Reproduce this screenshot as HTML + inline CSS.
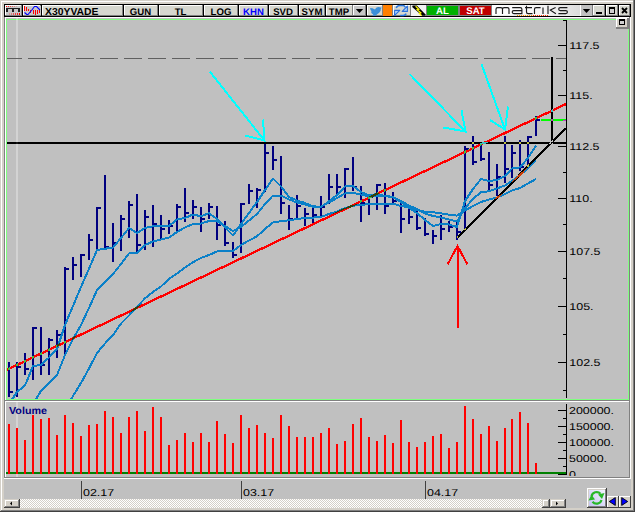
<!DOCTYPE html>
<html><head><meta charset="utf-8"><style>
html,body{margin:0;padding:0;width:635px;height:512px;overflow:hidden;background:#d4d0c8;font-family:"Liberation Sans",sans-serif;}
</style></head><body>
<svg width="635" height="512" viewBox="0 0 635 512" shape-rendering="crispEdges" style="position:absolute;left:0;top:0">
<defs><clipPath id="cc"><rect x="7" y="20" width="560" height="379"/></clipPath><clipPath id="vc"><rect x="6" y="402" width="561" height="74"/></clipPath><pattern id="chk" width="2" height="2" patternUnits="userSpaceOnUse"><rect width="2" height="2" fill="#ffffff"/><rect width="1" height="1" fill="#d4d0c8"/><rect x="1" y="1" width="1" height="1" fill="#d4d0c8"/></pattern></defs>
<rect x="0" y="0" width="635" height="512" fill="#d4d0c8"/>
<rect x="1" y="1" width="632" height="1" fill="#ffffff"/>
<rect x="1" y="1" width="1" height="509" fill="#ffffff"/>
<rect x="633" y="0" width="1" height="511" fill="#808080"/>
<rect x="634" y="0" width="1" height="512" fill="#404040"/>
<rect x="1" y="510" width="633" height="1" fill="#808080"/>
<rect x="0" y="511" width="635" height="1" fill="#404040"/>
<rect x="4" y="4" width="627" height="13" fill="#000000"/>
<rect x="5" y="5" width="17" height="11" fill="#d6d7cf"/>
<rect x="5" y="5" width="17" height="1" fill="#ffffff"/>
<rect x="5" y="5" width="1" height="11" fill="#ffffff"/>
<rect x="5" y="15" width="17" height="1" fill="#808080"/>
<rect x="21" y="5" width="1" height="11" fill="#808080"/>
<rect x="23" y="5" width="18" height="11" fill="#d6d7cf"/>
<rect x="23" y="5" width="18" height="1" fill="#ffffff"/>
<rect x="23" y="5" width="1" height="11" fill="#ffffff"/>
<rect x="23" y="15" width="18" height="1" fill="#808080"/>
<rect x="40" y="5" width="1" height="11" fill="#808080"/>
<rect x="42" y="5" width="81" height="11" fill="#d6d7cf"/>
<rect x="42" y="5" width="81" height="1" fill="#ffffff"/>
<rect x="42" y="5" width="1" height="11" fill="#ffffff"/>
<rect x="42" y="15" width="81" height="1" fill="#808080"/>
<rect x="122" y="5" width="1" height="11" fill="#808080"/>
<rect x="124" y="5" width="34" height="11" fill="#d6d7cf"/>
<rect x="124" y="5" width="34" height="1" fill="#ffffff"/>
<rect x="124" y="5" width="1" height="11" fill="#ffffff"/>
<rect x="124" y="15" width="34" height="1" fill="#808080"/>
<rect x="157" y="5" width="1" height="11" fill="#808080"/>
<rect x="159" y="5" width="44" height="11" fill="#d6d7cf"/>
<rect x="159" y="5" width="44" height="1" fill="#ffffff"/>
<rect x="159" y="5" width="1" height="11" fill="#ffffff"/>
<rect x="159" y="15" width="44" height="1" fill="#808080"/>
<rect x="202" y="5" width="1" height="11" fill="#808080"/>
<rect x="204" y="5" width="34" height="11" fill="#d6d7cf"/>
<rect x="204" y="5" width="34" height="1" fill="#ffffff"/>
<rect x="204" y="5" width="1" height="11" fill="#ffffff"/>
<rect x="204" y="15" width="34" height="1" fill="#808080"/>
<rect x="237" y="5" width="1" height="11" fill="#808080"/>
<rect x="239" y="5" width="29" height="11" fill="#d6d7cf"/>
<rect x="239" y="5" width="29" height="1" fill="#ffffff"/>
<rect x="239" y="5" width="1" height="11" fill="#ffffff"/>
<rect x="239" y="15" width="29" height="1" fill="#808080"/>
<rect x="267" y="5" width="1" height="11" fill="#808080"/>
<rect x="269" y="5" width="29" height="11" fill="#d6d7cf"/>
<rect x="269" y="5" width="29" height="1" fill="#ffffff"/>
<rect x="269" y="5" width="1" height="11" fill="#ffffff"/>
<rect x="269" y="15" width="29" height="1" fill="#808080"/>
<rect x="297" y="5" width="1" height="11" fill="#808080"/>
<rect x="299" y="5" width="26" height="11" fill="#d6d7cf"/>
<rect x="299" y="5" width="26" height="1" fill="#ffffff"/>
<rect x="299" y="5" width="1" height="11" fill="#ffffff"/>
<rect x="299" y="15" width="26" height="1" fill="#808080"/>
<rect x="324" y="5" width="1" height="11" fill="#808080"/>
<rect x="326" y="5" width="27" height="11" fill="#d6d7cf"/>
<rect x="326" y="5" width="27" height="1" fill="#ffffff"/>
<rect x="326" y="5" width="1" height="11" fill="#ffffff"/>
<rect x="326" y="15" width="27" height="1" fill="#808080"/>
<rect x="352" y="5" width="1" height="11" fill="#808080"/>
<rect x="353" y="5" width="13" height="11" fill="#d6d7cf"/>
<rect x="353" y="5" width="13" height="1" fill="#ffffff"/>
<rect x="353" y="5" width="1" height="11" fill="#ffffff"/>
<rect x="353" y="15" width="13" height="1" fill="#808080"/>
<rect x="365" y="5" width="1" height="11" fill="#808080"/>
<rect x="367" y="5" width="16" height="11" fill="#d6d7cf"/>
<rect x="367" y="5" width="16" height="1" fill="#ffffff"/>
<rect x="367" y="5" width="1" height="11" fill="#ffffff"/>
<rect x="367" y="15" width="16" height="1" fill="#808080"/>
<rect x="382" y="5" width="1" height="11" fill="#808080"/>
<rect x="393" y="5" width="18" height="11" fill="#d6d7cf"/>
<rect x="393" y="5" width="18" height="1" fill="#ffffff"/>
<rect x="393" y="5" width="1" height="11" fill="#ffffff"/>
<rect x="393" y="15" width="18" height="1" fill="#808080"/>
<rect x="410" y="5" width="1" height="11" fill="#808080"/>
<rect x="411" y="5" width="15" height="11" fill="#d6d7cf"/>
<rect x="411" y="5" width="15" height="1" fill="#ffffff"/>
<rect x="411" y="5" width="1" height="11" fill="#ffffff"/>
<rect x="411" y="15" width="15" height="1" fill="#808080"/>
<rect x="425" y="5" width="1" height="11" fill="#808080"/>
<rect x="6" y="6" width="15" height="9" fill="#c8c8c8"/>
<rect x="6" y="6" width="1" height="1" fill="#ff0000" opacity="1.00"/>
<rect x="8" y="6" width="1" height="1" fill="#ff0000" opacity="0.84"/>
<rect x="10" y="6" width="1" height="1" fill="#ff0000" opacity="0.68"/>
<rect x="12" y="6" width="1" height="1" fill="#ff0000" opacity="0.52"/>
<rect x="14" y="6" width="1" height="1" fill="#ff0000" opacity="0.36"/>
<rect x="16" y="6" width="1" height="1" fill="#ff0000" opacity="0.20"/>
<rect x="6" y="8" width="14" height="1" fill="#202020"/>
<rect x="6" y="8" width="2" height="4" fill="#202020"/>
<rect x="12" y="8" width="2" height="4" fill="#202020"/>
<rect x="18" y="8" width="2" height="4" fill="#202020"/>
<rect x="9" y="13" width="1" height="2" fill="#ff0000" opacity="0.25"/>
<rect x="11" y="13" width="1" height="2" fill="#ff0000" opacity="0.40"/>
<rect x="13" y="13" width="1" height="2" fill="#ff0000" opacity="0.55"/>
<rect x="15" y="13" width="1" height="2" fill="#ff0000" opacity="0.70"/>
<rect x="17" y="13" width="1" height="2" fill="#ff0000" opacity="0.85"/>
<rect x="19" y="13" width="1" height="2" fill="#ff0000" opacity="1.00"/>
<rect x="24" y="6" width="17" height="9" fill="#cacaca"/>
<rect x="24" y="6" width="1" height="5" fill="#ff0000"/>
<rect x="26" y="7" width="1" height="4" fill="#ff0000"/>
<rect x="28" y="9" width="1" height="2" fill="#ff0000"/>
<rect x="30" y="10" width="1" height="3" fill="#ff0000"/>
<rect x="33" y="10" width="1" height="4" fill="#ff0000"/>
<rect x="35" y="10" width="1" height="5" fill="#ff0000"/>
<rect x="37" y="10" width="1" height="4" fill="#ff0000"/>
<rect x="39" y="10" width="1" height="3" fill="#ff0000"/>
<path d="M24.5 12.5 L26.8 14.5 L28 14.5 L31.5 10.5 L34.5 6.5 L36.6 6.5 L40 10" stroke="#0000ff" stroke-width="1.1" fill="none" shape-rendering="auto"/>
<text x="45" y="15" font-family="Liberation Sans" font-size="10.2" font-weight="bold" fill="#000" text-anchor="start" text-rendering="geometricPrecision" shape-rendering="auto" textLength="53.5" lengthAdjust="spacingAndGlyphs">X30YVADE</text>
<text x="140.5" y="15" font-family="Liberation Sans" font-size="9.6" font-weight="bold" fill="#000" text-anchor="middle" text-rendering="geometricPrecision" shape-rendering="auto">GUN</text>
<text x="180.5" y="15" font-family="Liberation Sans" font-size="9.6" font-weight="bold" fill="#000" text-anchor="middle" text-rendering="geometricPrecision" shape-rendering="auto">TL</text>
<text x="221" y="15" font-family="Liberation Sans" font-size="9.6" font-weight="bold" fill="#000" text-anchor="middle" text-rendering="geometricPrecision" shape-rendering="auto">LOG</text>
<text x="253.5" y="15" font-family="Liberation Sans" font-size="9.6" font-weight="bold" fill="#0000ff" text-anchor="middle" text-rendering="geometricPrecision" shape-rendering="auto">KHN</text>
<text x="283" y="15" font-family="Liberation Sans" font-size="9.6" font-weight="bold" fill="#000" text-anchor="middle" text-rendering="geometricPrecision" shape-rendering="auto">SVD</text>
<text x="312" y="15" font-family="Liberation Sans" font-size="9.6" font-weight="bold" fill="#000" text-anchor="middle" text-rendering="geometricPrecision" shape-rendering="auto">SYM</text>
<text x="339" y="15" font-family="Liberation Sans" font-size="9.6" font-weight="bold" fill="#000" text-anchor="middle" text-rendering="geometricPrecision" shape-rendering="auto">TMP</text>
<rect x="354" y="6" width="11" height="9" fill="#c6c6c6"/>
<path d="M355.8 9 L363.2 9 L359.5 13 Z" fill="#000" shape-rendering="auto"/>
<path d="M370 8 L372.5 8.3 L375 9.6 L376.2 7.8 L378.2 7 L380 7.3 L381.6 7.8 L380.8 9 L380.6 10.8 L379.2 12.8 L377.2 14.2 L375.6 15.8 L371.8 15.8 L373.4 14.4 L371.8 13.4 L371 12 L371.6 11.2 L370.6 10 Z" fill="#3a8fd8" shape-rendering="auto"/>
<rect x="383" y="5" width="9" height="11" fill="#ff8000"/>
<rect x="392" y="5" width="1" height="11" fill="#808080"/>
<path d="M396.2 8 Q397 5.6 400 5.6 L402.8 5.6 Q404.6 5.6 405.2 7.2 M400.2 15.4 L403.2 15.4 Q405.4 15.4 406.2 13.6" stroke="#2a78e0" stroke-width="1.5" fill="none" shape-rendering="auto"/>
<path d="M407.4 6.2 L407.4 11.4 L402.2 11.4 Z M394.6 15.4 L394.6 10.4 L399.8 10.4 Z" fill="#a8d4ff" stroke="#2a70dc" stroke-width="1.1" stroke-linejoin="round" shape-rendering="auto"/>
<rect x="411" y="5" width="15" height="11" fill="#f2f2f2"/>
<path d="M412.6 5.6 L416.8 5.6 L425.6 14.4 L425.6 15.8 L422.2 15.8 L412.2 7 Z" fill="#000" shape-rendering="auto"/>
<path d="M415.6 6.2 L418.8 9.2 L417.2 9.8 L420.8 12.8 L419.4 13.4 L421.6 15.6" stroke="#f8f000" stroke-width="1.3" fill="none" shape-rendering="auto"/>
<rect x="426" y="5" width="34" height="11" fill="#808080"/>
<rect x="427" y="6" width="31" height="9" fill="#00b000"/>
<rect x="460" y="5" width="31" height="11" fill="#808080"/>
<rect x="460" y="6" width="31" height="9" fill="#c00000"/>
<text x="442.5" y="14" font-family="Liberation Sans" font-size="9.6" font-weight="bold" fill="#ffffff" text-anchor="middle" text-rendering="geometricPrecision" shape-rendering="auto">AL</text>
<text x="475.5" y="14" font-family="Liberation Sans" font-size="9.6" font-weight="bold" fill="#ffffff" text-anchor="middle" text-rendering="geometricPrecision" shape-rendering="auto">SAT</text>
<defs><linearGradient id="lg" x1="0" x2="1" y1="0" y2="0"><stop offset="0" stop-color="#ffffff"/><stop offset="0.6" stop-color="#f4f4f4"/><stop offset="1" stop-color="#dcdcdc"/></linearGradient></defs>
<rect x="491" y="5" width="2" height="11" fill="#808080"/>
<rect x="492" y="5" width="88" height="11" fill="url(#lg)"/>
<rect x="492" y="15" width="88" height="1" fill="#e8e8e8"/>
<path d="M496 14 V9.2 Q496 7.6 497.6 7.6 H500.9 Q502.5 7.6 502.5 9.2 V14 M502.5 9.2 Q502.5 7.6 504.1 7.6 H507.4 Q509 7.6 509 9.2 V14 M512.2 7.6 H520.2 Q521.9 7.6 521.9 9.2 V13.6 H513.8 Q512.2 13.6 512.2 12.1 Q512.2 10.6 513.8 10.6 H521.9 M526.5 5.8 V12 Q526.5 13.6 528.1 13.6 H532.5 M525 7.6 H532 M534.5 14 V9.2 Q534.5 7.6 536.1 7.6 H540.6 M543 7.4 V14 M548 5.8 V14 M555.6 7.6 L549.8 10.2 H550.6 L555.9 13.8 M567.4 7.6 H560.2 Q558.7 7.6 558.7 9.1 Q558.7 10.6 560.2 10.6 H565.8 Q567.4 10.6 567.4 12.1 Q567.4 13.6 565.8 13.6 H558.4" stroke="#1a1a1a" stroke-width="1.15" fill="none" shape-rendering="auto"/>
<rect x="517" y="15" width="1" height="1" fill="#ff9000"/>
<rect x="519" y="15" width="1" height="1" fill="#ff9000"/>
<rect x="521" y="15" width="1" height="1" fill="#ff9000"/>
<rect x="523" y="15" width="1" height="1" fill="#ff9000"/>
<rect x="525" y="15" width="1" height="1" fill="#ff9000"/>
<rect x="527" y="15" width="1" height="1" fill="#ff9000"/>
<rect x="529" y="15" width="1" height="1" fill="#ff9000"/>
<rect x="531" y="15" width="1" height="1" fill="#ff9000"/>
<rect x="533" y="15" width="1" height="1" fill="#ff3000"/>
<rect x="535" y="15" width="1" height="1" fill="#ff3000"/>
<rect x="537" y="15" width="1" height="1" fill="#ff3000"/>
<rect x="539" y="15" width="1" height="1" fill="#ff3000"/>
<rect x="541" y="15" width="1" height="1" fill="#ff3000"/>
<rect x="543" y="15" width="1" height="1" fill="#ff3000"/>
<rect x="545" y="15" width="1" height="1" fill="#ff3000"/>
<rect x="547" y="15" width="1" height="1" fill="#ff3000"/>
<rect x="580" y="5" width="1" height="11" fill="#ffffff"/>
<rect x="581" y="5" width="11" height="11" fill="#c0c0c0"/>
<rect x="592" y="5" width="1" height="11" fill="#808080"/>
<path d="M582.8 9 L590.2 9 L586.5 13 Z" fill="#000" shape-rendering="auto"/>
<rect x="593" y="5" width="12" height="11" fill="#d6d7cf"/>
<rect x="593" y="5" width="12" height="1" fill="#ffffff"/>
<rect x="593" y="5" width="1" height="11" fill="#ffffff"/>
<rect x="593" y="15" width="12" height="1" fill="#808080"/>
<rect x="604" y="5" width="1" height="11" fill="#808080"/>
<rect x="596" y="12" width="6" height="2" fill="#000"/>
<rect x="606" y="5" width="12" height="11" fill="#d6d7cf"/>
<rect x="606" y="5" width="12" height="1" fill="#ffffff"/>
<rect x="606" y="5" width="1" height="11" fill="#ffffff"/>
<rect x="606" y="15" width="12" height="1" fill="#808080"/>
<rect x="617" y="5" width="1" height="11" fill="#808080"/>
<rect x="609" y="7" width="6" height="7" fill="#000"/>
<rect x="610" y="9" width="4" height="4" fill="#d0d0d0"/>
<rect x="619" y="5" width="11" height="11" fill="#d6d7cf"/>
<rect x="619" y="5" width="11" height="1" fill="#ffffff"/>
<rect x="619" y="5" width="1" height="11" fill="#ffffff"/>
<rect x="619" y="15" width="11" height="1" fill="#808080"/>
<rect x="629" y="5" width="1" height="11" fill="#808080"/>
<path d="M622 8 L627 13 M627 8 L622 13" stroke="#000" stroke-width="1.8" shape-rendering="auto"/>
<rect x="4" y="17" width="1" height="461" fill="#808080"/>
<rect x="5" y="17" width="1" height="460" fill="#ffffff"/>
<rect x="5" y="17" width="625" height="1" fill="#ffffff"/>
<rect x="630" y="17" width="1" height="462" fill="#ffffff"/>
<rect x="629" y="17" width="1" height="384" fill="#808080"/>
<rect x="6" y="18" width="623" height="382" fill="#c0c0c0"/>
<rect x="6" y="19" width="623" height="1" fill="#80ff80"/>
<rect x="6" y="399" width="623" height="1" fill="#80ff80"/>
<rect x="6" y="19" width="1" height="381" fill="#80ff80"/>
<rect x="628" y="29" width="1" height="371" fill="#80ff80"/>
<rect x="16" y="18" width="2" height="381" fill="#ffffff" opacity="0.3"/>
<rect x="5" y="400" width="625" height="1" fill="#808080"/>
<rect x="5" y="401" width="625" height="1" fill="#ffffff"/>
<rect x="6" y="402" width="623" height="75" fill="#c0c0c0"/>
<rect x="16" y="402" width="2" height="75" fill="#ffffff" opacity="0.3"/>
<rect x="629" y="401" width="1" height="77" fill="#808080"/>
<rect x="4" y="477" width="626" height="1" fill="#808080"/>
<rect x="4" y="478" width="627" height="1" fill="#ffffff"/>
<rect x="4" y="479" width="627" height="20" fill="#c0c0c0"/>
<rect x="616" y="18" width="13" height="11" fill="#d4d0c8"/>
<rect x="616" y="18" width="13" height="1" fill="#ffffff"/>
<rect x="616" y="18" width="1" height="11" fill="#ffffff"/>
<rect x="616" y="27" width="13" height="2" fill="#808080"/>
<rect x="627" y="18" width="2" height="11" fill="#808080"/>
<rect x="619" y="19" width="6" height="6" fill="#000"/>
<rect x="620" y="21" width="4" height="3" fill="#d0d0d0"/>
<g clip-path="url(#cc)">
<rect x="7" y="58" width="15" height="1" fill="#606060"/>
<rect x="28" y="58" width="18" height="1" fill="#606060"/>
<rect x="52" y="58" width="18" height="1" fill="#606060"/>
<rect x="76" y="58" width="18" height="1" fill="#606060"/>
<rect x="100" y="58" width="18" height="1" fill="#606060"/>
<rect x="124" y="58" width="18" height="1" fill="#606060"/>
<rect x="148" y="58" width="18" height="1" fill="#606060"/>
<rect x="172" y="58" width="18" height="1" fill="#606060"/>
<rect x="196" y="58" width="18" height="1" fill="#606060"/>
<rect x="220" y="58" width="18" height="1" fill="#606060"/>
<rect x="244" y="58" width="18" height="1" fill="#606060"/>
<rect x="268" y="58" width="18" height="1" fill="#606060"/>
<rect x="292" y="58" width="18" height="1" fill="#606060"/>
<rect x="316" y="58" width="18" height="1" fill="#606060"/>
<rect x="340" y="58" width="18" height="1" fill="#606060"/>
<rect x="364" y="58" width="18" height="1" fill="#606060"/>
<rect x="388" y="58" width="18" height="1" fill="#606060"/>
<rect x="412" y="58" width="18" height="1" fill="#606060"/>
<rect x="436" y="58" width="18" height="1" fill="#606060"/>
<rect x="460" y="58" width="18" height="1" fill="#606060"/>
<rect x="484" y="58" width="18" height="1" fill="#606060"/>
<rect x="508" y="58" width="18" height="1" fill="#606060"/>
<rect x="532" y="58" width="18" height="1" fill="#606060"/>
<rect x="556" y="58" width="11" height="1" fill="#606060"/>
<rect x="8" y="362" width="2" height="35" fill="#000080"/>
<rect x="10" y="391" width="3" height="2" fill="#000080"/>
<rect x="16" y="362" width="2" height="35" fill="#000080"/>
<rect x="18" y="366" width="3" height="2" fill="#000080"/>
<rect x="24" y="353" width="2" height="22" fill="#000080"/>
<rect x="26" y="368" width="3" height="2" fill="#000080"/>
<rect x="32" y="327" width="2" height="53" fill="#000080"/>
<rect x="34" y="327" width="3" height="2" fill="#000080"/>
<rect x="40" y="327" width="2" height="48" fill="#000080"/>
<rect x="42" y="364" width="3" height="2" fill="#000080"/>
<rect x="48" y="338" width="2" height="37" fill="#000080"/>
<rect x="50" y="339" width="3" height="2" fill="#000080"/>
<rect x="56" y="330" width="2" height="28" fill="#000080"/>
<rect x="58" y="334" width="3" height="2" fill="#000080"/>
<rect x="64" y="267" width="2" height="87" fill="#000080"/>
<rect x="66" y="268" width="3" height="2" fill="#000080"/>
<rect x="72" y="257" width="2" height="23" fill="#000080"/>
<rect x="74" y="264" width="3" height="2" fill="#000080"/>
<rect x="80" y="254" width="2" height="23" fill="#000080"/>
<rect x="82" y="254" width="3" height="2" fill="#000080"/>
<rect x="88" y="234" width="2" height="26" fill="#000080"/>
<rect x="90" y="239" width="3" height="2" fill="#000080"/>
<rect x="96" y="207" width="2" height="43" fill="#000080"/>
<rect x="98" y="207" width="3" height="2" fill="#000080"/>
<rect x="104" y="175" width="2" height="73" fill="#000080"/>
<rect x="106" y="246" width="3" height="2" fill="#000080"/>
<rect x="112" y="223" width="2" height="39" fill="#000080"/>
<rect x="114" y="242" width="3" height="2" fill="#000080"/>
<rect x="120" y="215" width="2" height="36" fill="#000080"/>
<rect x="122" y="218" width="3" height="2" fill="#000080"/>
<rect x="128" y="201" width="2" height="37" fill="#000080"/>
<rect x="130" y="204" width="3" height="2" fill="#000080"/>
<rect x="136" y="194" width="2" height="58" fill="#000080"/>
<rect x="138" y="244" width="3" height="2" fill="#000080"/>
<rect x="144" y="210" width="2" height="40" fill="#000080"/>
<rect x="146" y="216" width="3" height="2" fill="#000080"/>
<rect x="152" y="205" width="2" height="42" fill="#000080"/>
<rect x="154" y="223" width="3" height="2" fill="#000080"/>
<rect x="160" y="215" width="2" height="24" fill="#000080"/>
<rect x="162" y="228" width="3" height="2" fill="#000080"/>
<rect x="168" y="220" width="2" height="14" fill="#000080"/>
<rect x="170" y="225" width="3" height="2" fill="#000080"/>
<rect x="176" y="204" width="2" height="27" fill="#000080"/>
<rect x="178" y="206" width="3" height="2" fill="#000080"/>
<rect x="184" y="188" width="2" height="34" fill="#000080"/>
<rect x="186" y="212" width="3" height="2" fill="#000080"/>
<rect x="192" y="200" width="2" height="19" fill="#000080"/>
<rect x="194" y="206" width="3" height="2" fill="#000080"/>
<rect x="200" y="207" width="2" height="25" fill="#000080"/>
<rect x="202" y="218" width="3" height="2" fill="#000080"/>
<rect x="208" y="203" width="2" height="16" fill="#000080"/>
<rect x="210" y="206" width="3" height="2" fill="#000080"/>
<rect x="216" y="206" width="2" height="34" fill="#000080"/>
<rect x="218" y="224" width="3" height="2" fill="#000080"/>
<rect x="224" y="221" width="2" height="25" fill="#000080"/>
<rect x="226" y="242" width="3" height="2" fill="#000080"/>
<rect x="232" y="242" width="2" height="16" fill="#000080"/>
<rect x="234" y="254" width="3" height="2" fill="#000080"/>
<rect x="240" y="203" width="2" height="50" fill="#000080"/>
<rect x="242" y="203" width="3" height="2" fill="#000080"/>
<rect x="248" y="184" width="2" height="20" fill="#000080"/>
<rect x="250" y="190" width="3" height="2" fill="#000080"/>
<rect x="256" y="188" width="2" height="20" fill="#000080"/>
<rect x="258" y="189" width="3" height="2" fill="#000080"/>
<rect x="264" y="144" width="2" height="48" fill="#000080"/>
<rect x="266" y="152" width="3" height="2" fill="#000080"/>
<rect x="272" y="146" width="2" height="24" fill="#000080"/>
<rect x="274" y="159" width="3" height="2" fill="#000080"/>
<rect x="280" y="156" width="2" height="58" fill="#000080"/>
<rect x="282" y="202" width="3" height="2" fill="#000080"/>
<rect x="288" y="205" width="2" height="25" fill="#000080"/>
<rect x="290" y="218" width="3" height="2" fill="#000080"/>
<rect x="296" y="195" width="2" height="23" fill="#000080"/>
<rect x="298" y="205" width="3" height="2" fill="#000080"/>
<rect x="304" y="208" width="2" height="18" fill="#000080"/>
<rect x="306" y="213" width="3" height="2" fill="#000080"/>
<rect x="312" y="206" width="2" height="17" fill="#000080"/>
<rect x="314" y="214" width="3" height="2" fill="#000080"/>
<rect x="320" y="196" width="2" height="20" fill="#000080"/>
<rect x="322" y="206" width="3" height="2" fill="#000080"/>
<rect x="328" y="174" width="2" height="30" fill="#000080"/>
<rect x="330" y="186" width="3" height="2" fill="#000080"/>
<rect x="336" y="174" width="2" height="20" fill="#000080"/>
<rect x="338" y="186" width="3" height="2" fill="#000080"/>
<rect x="344" y="168" width="2" height="30" fill="#000080"/>
<rect x="346" y="168" width="3" height="2" fill="#000080"/>
<rect x="352" y="157" width="2" height="34" fill="#000080"/>
<rect x="354" y="186" width="3" height="2" fill="#000080"/>
<rect x="360" y="186" width="2" height="36" fill="#000080"/>
<rect x="362" y="202" width="3" height="2" fill="#000080"/>
<rect x="368" y="196" width="2" height="19" fill="#000080"/>
<rect x="370" y="196" width="3" height="2" fill="#000080"/>
<rect x="376" y="184" width="2" height="26" fill="#000080"/>
<rect x="378" y="184" width="3" height="2" fill="#000080"/>
<rect x="384" y="183" width="2" height="31" fill="#000080"/>
<rect x="386" y="205" width="3" height="2" fill="#000080"/>
<rect x="392" y="192" width="2" height="12" fill="#000080"/>
<rect x="394" y="200" width="3" height="2" fill="#000080"/>
<rect x="400" y="201" width="2" height="32" fill="#000080"/>
<rect x="402" y="218" width="3" height="2" fill="#000080"/>
<rect x="408" y="209" width="2" height="15" fill="#000080"/>
<rect x="410" y="216" width="3" height="2" fill="#000080"/>
<rect x="416" y="211" width="2" height="19" fill="#000080"/>
<rect x="418" y="227" width="3" height="2" fill="#000080"/>
<rect x="424" y="218" width="2" height="18" fill="#000080"/>
<rect x="426" y="233" width="3" height="2" fill="#000080"/>
<rect x="432" y="230" width="2" height="14" fill="#000080"/>
<rect x="434" y="235" width="3" height="2" fill="#000080"/>
<rect x="440" y="215" width="2" height="25" fill="#000080"/>
<rect x="442" y="228" width="3" height="2" fill="#000080"/>
<rect x="448" y="221" width="2" height="11" fill="#000080"/>
<rect x="450" y="226" width="3" height="2" fill="#000080"/>
<rect x="456" y="222" width="2" height="18" fill="#000080"/>
<rect x="458" y="231" width="3" height="2" fill="#000080"/>
<rect x="464" y="146" width="2" height="84" fill="#000080"/>
<rect x="466" y="148" width="3" height="2" fill="#000080"/>
<rect x="472" y="136" width="2" height="29" fill="#000080"/>
<rect x="474" y="161" width="3" height="2" fill="#000080"/>
<rect x="480" y="144" width="2" height="17" fill="#000080"/>
<rect x="482" y="158" width="3" height="2" fill="#000080"/>
<rect x="488" y="152" width="2" height="38" fill="#000080"/>
<rect x="490" y="184" width="3" height="2" fill="#000080"/>
<rect x="496" y="164" width="2" height="32" fill="#000080"/>
<rect x="498" y="176" width="3" height="2" fill="#000080"/>
<rect x="504" y="136" width="2" height="47" fill="#000080"/>
<rect x="506" y="168" width="3" height="2" fill="#000080"/>
<rect x="511" y="145" width="2" height="33" fill="#000080"/>
<rect x="513" y="152" width="3" height="2" fill="#000080"/>
<rect x="519" y="140" width="2" height="31" fill="#000080"/>
<rect x="521" y="166" width="3" height="2" fill="#000080"/>
<rect x="527" y="136" width="2" height="31" fill="#000080"/>
<rect x="529" y="136" width="3" height="2" fill="#000080"/>
<rect x="535" y="116" width="2" height="20" fill="#000080"/>
<rect x="537" y="119" width="3" height="2" fill="#000080"/>
<polyline points="65,410 73,396 81,383 89,368.5 97,353 105,343.5 113,335 121,323.5 129,315.5 137,307 145,298.3 153,292 161,286.5 169,279 177,273.5 185,267.5 193,262.2 201,258 209,255 217,251.5 225,251 233,251 241,245 249,240.5 257,236.3 265,229 273,222.5 281,221.2 289,220.3 297,219 305,218 313,217.6 321,217 329,214 337,211.5 345,208 353,205.8 361,204.8 369,204.2 377,203.8 385,203.7 393,203.7 401,206 409,207.5 417,210 425,211.8 433,212.3 441,213.3 449,214.6 457,215.6 465,210.5 473,206 481,202 489,199.5 497,197.5 505,194 512,190.5 520,188 528,183.5 536,179" fill="none" stroke="#0a80c8" stroke-width="2" stroke-linejoin="round" shape-rendering="crispEdges"/>
<polyline points="33,404 41,391 49,383 57,375 65,355 73,339 81,325 89,308 97,290 105,282 113,274 121,264 129,253.5 137,253 145,245 153,241.5 161,239.5 169,237.5 177,232 185,227.5 193,224 201,223.5 209,221 217,221.5 225,226 233,231 241,227 249,220.5 257,214 265,204 273,195.5 281,195.5 289,199.5 297,202.5 305,204.5 313,206.8 321,206.5 329,202.5 337,198 345,193.5 353,193 361,194.5 369,196.25 377,195.5 385,195.5 393,197 401,201 409,205.5 417,209 425,213.5 433,216 441,217.5 449,219.5 457,221.5 465,208 473,199 481,192 489,191.3 497,188.5 505,185.5 512,181 520,175 528,168.5 536,160.5" fill="none" stroke="#0a80c8" stroke-width="2" stroke-linejoin="round" shape-rendering="crispEdges"/>
<polyline points="9,404 17,392 25,385.5 33,366 41,365 49,357.5 57,349 65,325 73,306 81,287 89,268.75 97,250 105,248.75 113,247.5 121,238 129,228 137,233 145,228 153,226.25 161,226.25 169,226 177,219.5 185,218 193,214.5 201,216.25 209,213.25 217,219 225,227.5 233,235.5 241,224 249,213 257,202 265,190 273,178.5 281,186.5 289,197 297,200.5 305,203 313,206.25 321,207 329,201.25 337,195 345,186.5 353,186 361,192 369,195.5 377,194 385,196 393,197.5 401,202 409,208 417,213 425,220 433,226 441,224 449,224.5 457,227 465,201 473,189 481,179 489,181 497,180 505,176 512,168.5 520,167.4 528,158 536,145.5" fill="none" stroke="#0a80c8" stroke-width="2" stroke-linejoin="round" shape-rendering="crispEdges"/>
<path d="M209.7 71.4 L264.5 140.5 M263 119.5 L264.5 140.5 L245.5 135.5" stroke="#00ffff" stroke-width="2" fill="none" stroke-linecap="butt"/>
<path d="M409.5 74 L465.5 131.5 M461.5 110.5 L465.5 131.5 L443.5 127.5" stroke="#00ffff" stroke-width="2" fill="none" stroke-linecap="butt"/>
<path d="M481.5 64 L505 129.5 M508 106.5 L505 129.5 L490 120" stroke="#00ffff" stroke-width="2" fill="none" stroke-linecap="butt"/>
<path d="M457.5 328 L457.5 246 M447.5 264.5 L457.5 246 L467.5 264.5" stroke="#ff0000" stroke-width="2" fill="none" stroke-linecap="butt"/>
</g>
<defs><clipPath id="vlc"><rect x="560" y="402" width="70" height="74"/></clipPath></defs>
<rect x="566" y="20" width="1" height="378" fill="#000"/>
<rect x="563" y="390" width="3" height="1" fill="#000"/>
<rect x="558" y="362" width="8" height="1" fill="#000"/>
<g><text transform="translate(569.3,366) scale(1.245,1)" font-family="Liberation Sans" font-size="10" fill="#000" text-rendering="geometricPrecision" shape-rendering="auto">102.5</text></g>
<rect x="563" y="334" width="3" height="1" fill="#000"/>
<rect x="558" y="306" width="8" height="1" fill="#000"/>
<g><text transform="translate(569.3,310) scale(1.245,1)" font-family="Liberation Sans" font-size="10" fill="#000" text-rendering="geometricPrecision" shape-rendering="auto">105.</text></g>
<rect x="563" y="278" width="3" height="1" fill="#000"/>
<rect x="558" y="251" width="8" height="1" fill="#000"/>
<g><text transform="translate(569.3,255) scale(1.245,1)" font-family="Liberation Sans" font-size="10" fill="#000" text-rendering="geometricPrecision" shape-rendering="auto">107.5</text></g>
<rect x="563" y="224" width="3" height="1" fill="#000"/>
<rect x="558" y="198" width="8" height="1" fill="#000"/>
<g><text transform="translate(569.3,202) scale(1.245,1)" font-family="Liberation Sans" font-size="10" fill="#000" text-rendering="geometricPrecision" shape-rendering="auto">110.</text></g>
<rect x="563" y="172" width="3" height="1" fill="#000"/>
<rect x="558" y="146" width="8" height="1" fill="#000"/>
<g><text transform="translate(569.3,150) scale(1.245,1)" font-family="Liberation Sans" font-size="10" fill="#000" text-rendering="geometricPrecision" shape-rendering="auto">112.5</text></g>
<rect x="563" y="120" width="3" height="1" fill="#000"/>
<rect x="558" y="95" width="8" height="1" fill="#000"/>
<g><text transform="translate(569.3,99) scale(1.245,1)" font-family="Liberation Sans" font-size="10" fill="#000" text-rendering="geometricPrecision" shape-rendering="auto">115.</text></g>
<rect x="563" y="70" width="3" height="1" fill="#000"/>
<rect x="558" y="45" width="8" height="1" fill="#000"/>
<g><text transform="translate(569.3,49) scale(1.245,1)" font-family="Liberation Sans" font-size="10" fill="#000" text-rendering="geometricPrecision" shape-rendering="auto">117.5</text></g>
<rect x="563" y="20" width="3" height="1" fill="#000"/>
<g clip-path="url(#vc)">
<rect x="6" y="472" width="561" height="2" fill="#008000"/>
<rect x="8" y="424" width="2" height="50" fill="#ff0000"/>
<rect x="16" y="428" width="2" height="46" fill="#ff0000"/>
<rect x="24" y="440" width="2" height="34" fill="#ff0000"/>
<rect x="32" y="415" width="2" height="59" fill="#ff0000"/>
<rect x="40" y="419" width="2" height="55" fill="#ff0000"/>
<rect x="48" y="418" width="2" height="56" fill="#ff0000"/>
<rect x="56" y="435" width="2" height="39" fill="#ff0000"/>
<rect x="64" y="415" width="2" height="59" fill="#ff0000"/>
<rect x="72" y="423" width="2" height="51" fill="#ff0000"/>
<rect x="80" y="436" width="2" height="38" fill="#ff0000"/>
<rect x="88" y="425" width="2" height="49" fill="#ff0000"/>
<rect x="96" y="424" width="2" height="50" fill="#ff0000"/>
<rect x="104" y="411" width="2" height="63" fill="#ff0000"/>
<rect x="112" y="417" width="2" height="57" fill="#ff0000"/>
<rect x="120" y="433" width="2" height="41" fill="#ff0000"/>
<rect x="128" y="417" width="2" height="57" fill="#ff0000"/>
<rect x="136" y="411" width="2" height="63" fill="#ff0000"/>
<rect x="144" y="431" width="2" height="43" fill="#ff0000"/>
<rect x="152" y="407" width="2" height="67" fill="#ff0000"/>
<rect x="160" y="417" width="2" height="57" fill="#ff0000"/>
<rect x="168" y="445" width="2" height="29" fill="#ff0000"/>
<rect x="176" y="440" width="2" height="34" fill="#ff0000"/>
<rect x="184" y="433" width="2" height="41" fill="#ff0000"/>
<rect x="192" y="442" width="2" height="32" fill="#ff0000"/>
<rect x="200" y="433" width="2" height="41" fill="#ff0000"/>
<rect x="208" y="442" width="2" height="32" fill="#ff0000"/>
<rect x="216" y="421" width="2" height="53" fill="#ff0000"/>
<rect x="224" y="434" width="2" height="40" fill="#ff0000"/>
<rect x="232" y="443" width="2" height="31" fill="#ff0000"/>
<rect x="240" y="415" width="2" height="59" fill="#ff0000"/>
<rect x="248" y="428" width="2" height="46" fill="#ff0000"/>
<rect x="256" y="425" width="2" height="49" fill="#ff0000"/>
<rect x="264" y="433" width="2" height="41" fill="#ff0000"/>
<rect x="272" y="438" width="2" height="36" fill="#ff0000"/>
<rect x="280" y="415" width="2" height="59" fill="#ff0000"/>
<rect x="288" y="426" width="2" height="48" fill="#ff0000"/>
<rect x="296" y="437" width="2" height="37" fill="#ff0000"/>
<rect x="304" y="437" width="2" height="37" fill="#ff0000"/>
<rect x="312" y="437" width="2" height="37" fill="#ff0000"/>
<rect x="320" y="433" width="2" height="41" fill="#ff0000"/>
<rect x="328" y="428" width="2" height="46" fill="#ff0000"/>
<rect x="336" y="444" width="2" height="30" fill="#ff0000"/>
<rect x="344" y="441" width="2" height="33" fill="#ff0000"/>
<rect x="352" y="424" width="2" height="50" fill="#ff0000"/>
<rect x="360" y="418" width="2" height="56" fill="#ff0000"/>
<rect x="368" y="437" width="2" height="37" fill="#ff0000"/>
<rect x="376" y="441" width="2" height="33" fill="#ff0000"/>
<rect x="384" y="435" width="2" height="39" fill="#ff0000"/>
<rect x="392" y="443" width="2" height="31" fill="#ff0000"/>
<rect x="400" y="420" width="2" height="54" fill="#ff0000"/>
<rect x="408" y="442" width="2" height="32" fill="#ff0000"/>
<rect x="416" y="447" width="2" height="27" fill="#ff0000"/>
<rect x="424" y="442" width="2" height="32" fill="#ff0000"/>
<rect x="432" y="436" width="2" height="38" fill="#ff0000"/>
<rect x="440" y="434" width="2" height="40" fill="#ff0000"/>
<rect x="448" y="448" width="2" height="26" fill="#ff0000"/>
<rect x="456" y="442" width="2" height="32" fill="#ff0000"/>
<rect x="464" y="406" width="2" height="68" fill="#ff0000"/>
<rect x="472" y="419" width="2" height="55" fill="#ff0000"/>
<rect x="480" y="434" width="2" height="40" fill="#ff0000"/>
<rect x="488" y="426" width="2" height="48" fill="#ff0000"/>
<rect x="496" y="441" width="2" height="33" fill="#ff0000"/>
<rect x="504" y="428" width="2" height="46" fill="#ff0000"/>
<rect x="511" y="419" width="2" height="55" fill="#ff0000"/>
<rect x="519" y="412" width="2" height="62" fill="#ff0000"/>
<rect x="527" y="423" width="2" height="51" fill="#ff0000"/>
<rect x="535" y="463" width="2" height="11" fill="#ff0000"/>
</g>
<text x="9" y="414" font-family="Liberation Sans" font-size="10.2" font-weight="bold" fill="#000080" text-rendering="geometricPrecision" textLength="38" lengthAdjust="spacingAndGlyphs">Volume</text>
<rect x="566" y="404" width="1" height="71" fill="#000"/>
<rect x="558" y="410" width="8" height="1" fill="#000"/>
<rect x="563" y="418" width="3" height="1" fill="#000"/>
<g><text transform="translate(569,414) scale(1.245,1)" font-family="Liberation Sans" font-size="10" fill="#000" text-rendering="geometricPrecision" shape-rendering="auto">200000.</text></g>
<rect x="558" y="426" width="8" height="1" fill="#000"/>
<rect x="563" y="434" width="3" height="1" fill="#000"/>
<g><text transform="translate(569,430) scale(1.245,1)" font-family="Liberation Sans" font-size="10" fill="#000" text-rendering="geometricPrecision" shape-rendering="auto">150000.</text></g>
<rect x="558" y="442" width="8" height="1" fill="#000"/>
<rect x="563" y="450" width="3" height="1" fill="#000"/>
<g><text transform="translate(569,446) scale(1.245,1)" font-family="Liberation Sans" font-size="10" fill="#000" text-rendering="geometricPrecision" shape-rendering="auto">100000.</text></g>
<rect x="558" y="458" width="8" height="1" fill="#000"/>
<rect x="563" y="466" width="3" height="1" fill="#000"/>
<g><text transform="translate(569,462) scale(1.245,1)" font-family="Liberation Sans" font-size="10" fill="#000" text-rendering="geometricPrecision" shape-rendering="auto">50000.</text></g>
<rect x="558" y="474" width="8" height="1" fill="#000"/>
<g clip-path="url(#vlc)"><text transform="translate(569,478) scale(1.245,1)" font-family="Liberation Sans" font-size="10" fill="#000" text-rendering="geometricPrecision" shape-rendering="auto">0</text></g>
<rect x="81" y="481" width="1" height="18" fill="#404040"/>
<g><text transform="translate(83,496) scale(1.245,1)" font-family="Liberation Sans" font-size="10" fill="#000" text-rendering="geometricPrecision" shape-rendering="auto">02.17</text></g>
<rect x="241" y="481" width="1" height="18" fill="#404040"/>
<g><text transform="translate(243,496) scale(1.245,1)" font-family="Liberation Sans" font-size="10" fill="#000" text-rendering="geometricPrecision" shape-rendering="auto">03.17</text></g>
<rect x="425" y="481" width="1" height="18" fill="#404040"/>
<g><text transform="translate(427,496) scale(1.245,1)" font-family="Liberation Sans" font-size="10" fill="#000" text-rendering="geometricPrecision" shape-rendering="auto">04.17</text></g>
<rect x="4" y="499" width="562" height="9" fill="url(#chk)"/>
<rect x="4" y="499" width="16" height="9" fill="#d4d0c8"/>
<rect x="4" y="499" width="16" height="1" fill="#d4d0c8"/>
<rect x="5" y="500" width="14" height="1" fill="#ffffff"/>
<rect x="5" y="500" width="1" height="7" fill="#ffffff"/>
<rect x="4" y="507" width="16" height="1" fill="#404040"/>
<rect x="19" y="499" width="1" height="9" fill="#404040"/>
<rect x="5" y="506" width="14" height="1" fill="#808080"/>
<rect x="18" y="500" width="1" height="7" fill="#808080"/>
<path d="M10 503.5 L12 501.5 L12 505.5 Z" fill="#000" shape-rendering="auto"/>
<rect x="542" y="499" width="8" height="9" fill="#d4d0c8"/>
<rect x="542" y="499" width="8" height="1" fill="#d4d0c8"/>
<rect x="543" y="500" width="6" height="1" fill="#ffffff"/>
<rect x="543" y="500" width="1" height="7" fill="#ffffff"/>
<rect x="542" y="507" width="8" height="1" fill="#404040"/>
<rect x="549" y="499" width="1" height="9" fill="#404040"/>
<rect x="543" y="506" width="6" height="1" fill="#808080"/>
<rect x="548" y="500" width="1" height="7" fill="#808080"/>
<rect x="550" y="499" width="16" height="9" fill="#d4d0c8"/>
<rect x="550" y="499" width="16" height="1" fill="#d4d0c8"/>
<rect x="551" y="500" width="14" height="1" fill="#ffffff"/>
<rect x="551" y="500" width="1" height="7" fill="#ffffff"/>
<rect x="550" y="507" width="16" height="1" fill="#404040"/>
<rect x="565" y="499" width="1" height="9" fill="#404040"/>
<rect x="551" y="506" width="14" height="1" fill="#808080"/>
<rect x="564" y="500" width="1" height="7" fill="#808080"/>
<path d="M558 503.5 L556 501.5 L556 505.5 Z" fill="#000" shape-rendering="auto"/>
<rect x="566" y="499" width="21" height="9" fill="#c0c0c0"/>
<defs><linearGradient id="rg" x1="1" y1="0" x2="0" y2="1"><stop offset="0" stop-color="#f4f4ff"/><stop offset="1" stop-color="#c4c4f0"/></linearGradient></defs>
<rect x="587" y="488" width="20" height="20" fill="#d4d0c8"/>
<rect x="587" y="488" width="20" height="1" fill="#ffffff"/>
<rect x="587" y="488" width="1" height="20" fill="#ffffff"/>
<rect x="587" y="507" width="20" height="1" fill="#404040"/>
<rect x="606" y="488" width="1" height="20" fill="#404040"/>
<rect x="605" y="489" width="1" height="18" fill="#808080"/>
<rect x="588" y="506" width="18" height="1" fill="#808080"/>
<rect x="589" y="490" width="16" height="16" fill="url(#rg)"/>
<path d="M591.5 496.5 A5.2 5.2 0 0 1 600.5 493.8 M601.5 500 A5.2 5.2 0 0 1 592.5 501.8" stroke="#28b828" stroke-width="2.2" fill="none" shape-rendering="auto"/>
<path d="M598 494.5 L604.5 493 L602 499 Z M595 499.5 L588.5 500.5 L591.5 494.8 Z" fill="#28b828" shape-rendering="auto"/>
<rect x="607" y="496" width="12" height="12" fill="#d4d0c8"/>
<rect x="607" y="496" width="12" height="1" fill="#ffffff"/>
<rect x="607" y="496" width="1" height="12" fill="#ffffff"/>
<rect x="607" y="507" width="12" height="1" fill="#404040"/>
<rect x="618" y="496" width="1" height="12" fill="#404040"/>
<rect x="619" y="496" width="12" height="12" fill="#d4d0c8"/>
<rect x="619" y="496" width="12" height="1" fill="#ffffff"/>
<rect x="619" y="496" width="1" height="12" fill="#ffffff"/>
<rect x="619" y="507" width="12" height="1" fill="#404040"/>
<rect x="630" y="496" width="1" height="12" fill="#404040"/>
<path d="M609.3 501.5 L615.3 497.6 L615.3 505.4 Z" fill="#0000ff" stroke="#000" stroke-width="0.9" stroke-linejoin="round" shape-rendering="auto"/>
<path d="M627.7 501.5 L621.7 497.6 L621.7 505.4 Z" fill="#0000ff" stroke="#000" stroke-width="0.9" stroke-linejoin="round" shape-rendering="auto"/>
<rect x="551" y="57" width="2" height="1" fill="#000000"/>
<rect x="551" y="58" width="2" height="1" fill="#000000"/>
<rect x="551" y="59" width="2" height="1" fill="#000000"/>
<rect x="551" y="60" width="2" height="1" fill="#000000"/>
<rect x="551" y="61" width="2" height="1" fill="#000000"/>
<rect x="551" y="62" width="2" height="1" fill="#000000"/>
<rect x="551" y="63" width="2" height="1" fill="#000000"/>
<rect x="551" y="64" width="2" height="1" fill="#000000"/>
<rect x="551" y="65" width="2" height="1" fill="#000000"/>
<rect x="551" y="66" width="2" height="1" fill="#000000"/>
<rect x="551" y="67" width="2" height="1" fill="#000000"/>
<rect x="551" y="68" width="2" height="1" fill="#000000"/>
<rect x="551" y="69" width="2" height="1" fill="#000000"/>
<rect x="551" y="70" width="2" height="1" fill="#000000"/>
<rect x="551" y="71" width="2" height="1" fill="#000000"/>
<rect x="551" y="72" width="2" height="1" fill="#000000"/>
<rect x="551" y="73" width="2" height="1" fill="#000000"/>
<rect x="551" y="74" width="2" height="1" fill="#000000"/>
<rect x="551" y="75" width="2" height="1" fill="#000000"/>
<rect x="551" y="76" width="2" height="1" fill="#000000"/>
<rect x="551" y="77" width="2" height="1" fill="#000000"/>
<rect x="551" y="78" width="2" height="1" fill="#000000"/>
<rect x="551" y="79" width="2" height="1" fill="#000000"/>
<rect x="551" y="80" width="2" height="1" fill="#000000"/>
<rect x="551" y="81" width="2" height="1" fill="#000000"/>
<rect x="551" y="82" width="2" height="1" fill="#000000"/>
<rect x="551" y="83" width="2" height="1" fill="#000000"/>
<rect x="551" y="84" width="2" height="1" fill="#000000"/>
<rect x="551" y="85" width="2" height="1" fill="#000000"/>
<rect x="551" y="86" width="2" height="1" fill="#000000"/>
<rect x="551" y="87" width="2" height="1" fill="#000000"/>
<rect x="551" y="88" width="2" height="1" fill="#000000"/>
<rect x="551" y="89" width="2" height="1" fill="#000000"/>
<rect x="551" y="90" width="2" height="1" fill="#000000"/>
<rect x="551" y="91" width="2" height="1" fill="#000000"/>
<rect x="551" y="92" width="2" height="1" fill="#000000"/>
<rect x="551" y="93" width="2" height="1" fill="#000000"/>
<rect x="551" y="94" width="2" height="1" fill="#000000"/>
<rect x="551" y="95" width="2" height="1" fill="#000000"/>
<rect x="551" y="96" width="2" height="1" fill="#000000"/>
<rect x="551" y="97" width="2" height="1" fill="#000000"/>
<rect x="551" y="98" width="2" height="1" fill="#000000"/>
<rect x="551" y="99" width="2" height="1" fill="#000000"/>
<rect x="551" y="100" width="2" height="1" fill="#000000"/>
<rect x="551" y="101" width="2" height="1" fill="#000000"/>
<rect x="551" y="102" width="2" height="1" fill="#000000"/>
<rect x="551" y="103" width="2" height="1" fill="#000000"/>
<rect x="564" y="103" width="2" height="1" fill="#ff0000"/>
<rect x="551" y="104" width="2" height="1" fill="#000000"/>
<rect x="562" y="104" width="4" height="1" fill="#ff0000"/>
<rect x="551" y="105" width="2" height="1" fill="#000000"/>
<rect x="560" y="105" width="6" height="1" fill="#ff0000"/>
<rect x="551" y="106" width="2" height="1" fill="#000000"/>
<rect x="558" y="106" width="5" height="1" fill="#ff0000"/>
<rect x="551" y="107" width="2" height="1" fill="#000000"/>
<rect x="556" y="107" width="5" height="1" fill="#ff0000"/>
<rect x="551" y="108" width="2" height="1" fill="#000000"/>
<rect x="554" y="108" width="5" height="1" fill="#ff0000"/>
<rect x="551" y="109" width="1" height="1" fill="#000000"/>
<rect x="552" y="109" width="1" height="1" fill="#3fc0c0"/>
<rect x="553" y="109" width="4" height="1" fill="#ff0000"/>
<rect x="550" y="110" width="1" height="1" fill="#ff0000"/>
<rect x="551" y="110" width="2" height="1" fill="#3fc0c0"/>
<rect x="553" y="110" width="2" height="1" fill="#ff0000"/>
<rect x="548" y="111" width="3" height="1" fill="#ff0000"/>
<rect x="551" y="111" width="2" height="1" fill="#3fc0c0"/>
<rect x="545" y="112" width="6" height="1" fill="#ff0000"/>
<rect x="551" y="112" width="2" height="1" fill="#000000"/>
<rect x="543" y="113" width="6" height="1" fill="#ff0000"/>
<rect x="551" y="113" width="2" height="1" fill="#000000"/>
<rect x="541" y="114" width="6" height="1" fill="#ff0000"/>
<rect x="551" y="114" width="2" height="1" fill="#000000"/>
<rect x="539" y="115" width="5" height="1" fill="#ff0000"/>
<rect x="551" y="115" width="2" height="1" fill="#000000"/>
<rect x="537" y="116" width="5" height="1" fill="#ff0000"/>
<rect x="551" y="116" width="2" height="1" fill="#000000"/>
<rect x="535" y="117" width="2" height="1" fill="#3fc040"/>
<rect x="537" y="117" width="3" height="1" fill="#ff0000"/>
<rect x="551" y="117" width="2" height="1" fill="#000000"/>
<rect x="533" y="118" width="2" height="1" fill="#ff0000"/>
<rect x="535" y="118" width="2" height="1" fill="#3fc040"/>
<rect x="537" y="118" width="1" height="1" fill="#ff0000"/>
<rect x="551" y="118" width="2" height="1" fill="#000000"/>
<rect x="531" y="119" width="4" height="1" fill="#ff0000"/>
<rect x="535" y="119" width="1" height="1" fill="#3fc040"/>
<rect x="541" y="119" width="10" height="1" fill="#00ff00"/>
<rect x="551" y="119" width="2" height="1" fill="#c03fc0"/>
<rect x="553" y="119" width="13" height="1" fill="#00ff00"/>
<rect x="529" y="120" width="5" height="1" fill="#ff0000"/>
<rect x="541" y="120" width="10" height="1" fill="#00ff00"/>
<rect x="551" y="120" width="2" height="1" fill="#c03fc0"/>
<rect x="553" y="120" width="10" height="1" fill="#00ff00"/>
<rect x="563" y="120" width="3" height="1" fill="#c03fc0"/>
<rect x="527" y="121" width="5" height="1" fill="#ff0000"/>
<rect x="551" y="121" width="2" height="1" fill="#000000"/>
<rect x="524" y="122" width="6" height="1" fill="#ff0000"/>
<rect x="551" y="122" width="2" height="1" fill="#000000"/>
<rect x="522" y="123" width="6" height="1" fill="#ff0000"/>
<rect x="551" y="123" width="2" height="1" fill="#000000"/>
<rect x="520" y="124" width="6" height="1" fill="#ff0000"/>
<rect x="551" y="124" width="2" height="1" fill="#000000"/>
<rect x="518" y="125" width="5" height="1" fill="#ff0000"/>
<rect x="551" y="125" width="2" height="1" fill="#000000"/>
<rect x="516" y="126" width="5" height="1" fill="#ff0000"/>
<rect x="551" y="126" width="2" height="1" fill="#000000"/>
<rect x="514" y="127" width="5" height="1" fill="#ff0000"/>
<rect x="551" y="127" width="2" height="1" fill="#000000"/>
<rect x="512" y="128" width="5" height="1" fill="#ff0000"/>
<rect x="551" y="128" width="2" height="1" fill="#000000"/>
<rect x="564" y="128" width="2" height="1" fill="#000000"/>
<rect x="510" y="129" width="5" height="1" fill="#ff0000"/>
<rect x="551" y="129" width="2" height="1" fill="#000000"/>
<rect x="563" y="129" width="3" height="1" fill="#000000"/>
<rect x="508" y="130" width="5" height="1" fill="#ff0000"/>
<rect x="551" y="130" width="2" height="1" fill="#000000"/>
<rect x="562" y="130" width="3" height="1" fill="#000000"/>
<rect x="505" y="131" width="6" height="1" fill="#ff0000"/>
<rect x="551" y="131" width="2" height="1" fill="#000000"/>
<rect x="561" y="131" width="3" height="1" fill="#000000"/>
<rect x="503" y="132" width="6" height="1" fill="#ff0000"/>
<rect x="551" y="132" width="2" height="1" fill="#000000"/>
<rect x="560" y="132" width="3" height="1" fill="#000000"/>
<rect x="501" y="133" width="6" height="1" fill="#ff0000"/>
<rect x="551" y="133" width="2" height="1" fill="#000000"/>
<rect x="559" y="133" width="3" height="1" fill="#000000"/>
<rect x="499" y="134" width="6" height="1" fill="#ff0000"/>
<rect x="551" y="134" width="2" height="1" fill="#000000"/>
<rect x="558" y="134" width="3" height="1" fill="#000000"/>
<rect x="497" y="135" width="5" height="1" fill="#ff0000"/>
<rect x="551" y="135" width="2" height="1" fill="#000000"/>
<rect x="557" y="135" width="3" height="1" fill="#000000"/>
<rect x="495" y="136" width="5" height="1" fill="#ff0000"/>
<rect x="551" y="136" width="2" height="1" fill="#000000"/>
<rect x="556" y="136" width="3" height="1" fill="#000000"/>
<rect x="493" y="137" width="5" height="1" fill="#ff0000"/>
<rect x="551" y="137" width="2" height="1" fill="#000000"/>
<rect x="555" y="137" width="3" height="1" fill="#000000"/>
<rect x="491" y="138" width="5" height="1" fill="#ff0000"/>
<rect x="551" y="138" width="2" height="1" fill="#000000"/>
<rect x="554" y="138" width="3" height="1" fill="#000000"/>
<rect x="489" y="139" width="5" height="1" fill="#ff0000"/>
<rect x="551" y="139" width="5" height="1" fill="#000000"/>
<rect x="487" y="140" width="5" height="1" fill="#ff0000"/>
<rect x="551" y="140" width="1" height="1" fill="#000000"/>
<rect x="553" y="140" width="2" height="1" fill="#000000"/>
<rect x="484" y="141" width="6" height="1" fill="#ff0000"/>
<rect x="553" y="141" width="1" height="1" fill="#000000"/>
<rect x="7" y="142" width="9" height="1" fill="#000000"/>
<rect x="16" y="142" width="2" height="1" fill="#131313"/>
<rect x="18" y="142" width="454" height="1" fill="#000000"/>
<rect x="472" y="142" width="2" height="1" fill="#c0c040"/>
<rect x="474" y="142" width="8" height="1" fill="#000000"/>
<rect x="482" y="142" width="6" height="1" fill="#3fc0c0"/>
<rect x="488" y="142" width="16" height="1" fill="#000000"/>
<rect x="504" y="142" width="2" height="1" fill="#c0c040"/>
<rect x="506" y="142" width="13" height="1" fill="#000000"/>
<rect x="519" y="142" width="2" height="1" fill="#c0c040"/>
<rect x="521" y="142" width="6" height="1" fill="#000000"/>
<rect x="527" y="142" width="2" height="1" fill="#c0c040"/>
<rect x="529" y="142" width="21" height="1" fill="#000000"/>
<rect x="551" y="142" width="15" height="1" fill="#000000"/>
<rect x="7" y="143" width="9" height="1" fill="#000000"/>
<rect x="16" y="143" width="2" height="1" fill="#131313"/>
<rect x="18" y="143" width="454" height="1" fill="#000000"/>
<rect x="472" y="143" width="2" height="1" fill="#c0c040"/>
<rect x="474" y="143" width="6" height="1" fill="#000000"/>
<rect x="480" y="143" width="6" height="1" fill="#3fc0c0"/>
<rect x="486" y="143" width="18" height="1" fill="#000000"/>
<rect x="504" y="143" width="2" height="1" fill="#c0c040"/>
<rect x="506" y="143" width="13" height="1" fill="#000000"/>
<rect x="519" y="143" width="2" height="1" fill="#c0c040"/>
<rect x="521" y="143" width="6" height="1" fill="#000000"/>
<rect x="527" y="143" width="2" height="1" fill="#c0c040"/>
<rect x="529" y="143" width="20" height="1" fill="#000000"/>
<rect x="551" y="143" width="1" height="1" fill="#000000"/>
<rect x="553" y="143" width="13" height="1" fill="#000000"/>
<rect x="478" y="144" width="2" height="1" fill="#ff0000"/>
<rect x="480" y="144" width="2" height="1" fill="#3fc040"/>
<rect x="482" y="144" width="1" height="1" fill="#ff0000"/>
<rect x="548" y="144" width="3" height="1" fill="#000000"/>
<rect x="476" y="145" width="4" height="1" fill="#ff0000"/>
<rect x="480" y="145" width="1" height="1" fill="#3fc040"/>
<rect x="547" y="145" width="3" height="1" fill="#000000"/>
<rect x="474" y="146" width="5" height="1" fill="#ff0000"/>
<rect x="546" y="146" width="3" height="1" fill="#000000"/>
<rect x="472" y="147" width="2" height="1" fill="#3fc040"/>
<rect x="474" y="147" width="3" height="1" fill="#ff0000"/>
<rect x="545" y="147" width="3" height="1" fill="#000000"/>
<rect x="470" y="148" width="2" height="1" fill="#ff0000"/>
<rect x="472" y="148" width="2" height="1" fill="#3fc040"/>
<rect x="474" y="148" width="1" height="1" fill="#ff0000"/>
<rect x="544" y="148" width="3" height="1" fill="#000000"/>
<rect x="468" y="149" width="1" height="1" fill="#3fc040"/>
<rect x="469" y="149" width="3" height="1" fill="#ff0000"/>
<rect x="472" y="149" width="1" height="1" fill="#3fc040"/>
<rect x="543" y="149" width="3" height="1" fill="#000000"/>
<rect x="465" y="150" width="1" height="1" fill="#3fc040"/>
<rect x="466" y="150" width="5" height="1" fill="#ff0000"/>
<rect x="542" y="150" width="3" height="1" fill="#000000"/>
<rect x="463" y="151" width="1" height="1" fill="#ff0000"/>
<rect x="464" y="151" width="2" height="1" fill="#3fc040"/>
<rect x="466" y="151" width="3" height="1" fill="#ff0000"/>
<rect x="541" y="151" width="3" height="1" fill="#000000"/>
<rect x="461" y="152" width="3" height="1" fill="#ff0000"/>
<rect x="464" y="152" width="2" height="1" fill="#3fc040"/>
<rect x="466" y="152" width="1" height="1" fill="#ff0000"/>
<rect x="540" y="152" width="3" height="1" fill="#000000"/>
<rect x="459" y="153" width="5" height="1" fill="#ff0000"/>
<rect x="464" y="153" width="1" height="1" fill="#3fc040"/>
<rect x="539" y="153" width="3" height="1" fill="#000000"/>
<rect x="457" y="154" width="5" height="1" fill="#ff0000"/>
<rect x="538" y="154" width="3" height="1" fill="#000000"/>
<rect x="455" y="155" width="5" height="1" fill="#ff0000"/>
<rect x="537" y="155" width="3" height="1" fill="#000000"/>
<rect x="453" y="156" width="5" height="1" fill="#ff0000"/>
<rect x="536" y="156" width="3" height="1" fill="#000000"/>
<rect x="451" y="157" width="5" height="1" fill="#ff0000"/>
<rect x="535" y="157" width="3" height="1" fill="#000000"/>
<rect x="449" y="158" width="5" height="1" fill="#ff0000"/>
<rect x="534" y="158" width="3" height="1" fill="#000000"/>
<rect x="447" y="159" width="5" height="1" fill="#ff0000"/>
<rect x="533" y="159" width="3" height="1" fill="#000000"/>
<rect x="444" y="160" width="6" height="1" fill="#ff0000"/>
<rect x="532" y="160" width="3" height="1" fill="#000000"/>
<rect x="442" y="161" width="6" height="1" fill="#ff0000"/>
<rect x="531" y="161" width="3" height="1" fill="#000000"/>
<rect x="440" y="162" width="6" height="1" fill="#ff0000"/>
<rect x="530" y="162" width="3" height="1" fill="#000000"/>
<rect x="438" y="163" width="5" height="1" fill="#ff0000"/>
<rect x="529" y="163" width="3" height="1" fill="#000000"/>
<rect x="436" y="164" width="5" height="1" fill="#ff0000"/>
<rect x="528" y="164" width="1" height="1" fill="#c0c040"/>
<rect x="529" y="164" width="2" height="1" fill="#000000"/>
<rect x="434" y="165" width="5" height="1" fill="#ff0000"/>
<rect x="527" y="165" width="2" height="1" fill="#c0c040"/>
<rect x="529" y="165" width="1" height="1" fill="#000000"/>
<rect x="432" y="166" width="5" height="1" fill="#ff0000"/>
<rect x="526" y="166" width="1" height="1" fill="#000000"/>
<rect x="527" y="166" width="2" height="1" fill="#c0c040"/>
<rect x="430" y="167" width="5" height="1" fill="#ff0000"/>
<rect x="525" y="167" width="3" height="1" fill="#000000"/>
<rect x="428" y="168" width="5" height="1" fill="#ff0000"/>
<rect x="524" y="168" width="2" height="1" fill="#000000"/>
<rect x="526" y="168" width="1" height="1" fill="#ca4008"/>
<rect x="426" y="169" width="5" height="1" fill="#ff0000"/>
<rect x="523" y="169" width="2" height="1" fill="#000000"/>
<rect x="525" y="169" width="1" height="1" fill="#ca4008"/>
<rect x="423" y="170" width="6" height="1" fill="#ff0000"/>
<rect x="522" y="170" width="2" height="1" fill="#000000"/>
<rect x="524" y="170" width="1" height="1" fill="#ca4008"/>
<rect x="421" y="171" width="6" height="1" fill="#ff0000"/>
<rect x="521" y="171" width="2" height="1" fill="#000000"/>
<rect x="523" y="171" width="1" height="1" fill="#ca4008"/>
<rect x="419" y="172" width="6" height="1" fill="#ff0000"/>
<rect x="520" y="172" width="1" height="1" fill="#000000"/>
<rect x="521" y="172" width="3" height="1" fill="#ca4008"/>
<rect x="417" y="173" width="5" height="1" fill="#ff0000"/>
<rect x="519" y="173" width="1" height="1" fill="#000000"/>
<rect x="520" y="173" width="3" height="1" fill="#ca4008"/>
<rect x="415" y="174" width="5" height="1" fill="#ff0000"/>
<rect x="518" y="174" width="1" height="1" fill="#000000"/>
<rect x="519" y="174" width="3" height="1" fill="#ca4008"/>
<rect x="413" y="175" width="5" height="1" fill="#ff0000"/>
<rect x="518" y="175" width="3" height="1" fill="#ca4008"/>
<rect x="411" y="176" width="5" height="1" fill="#ff0000"/>
<rect x="517" y="176" width="3" height="1" fill="#ca4008"/>
<rect x="409" y="177" width="5" height="1" fill="#ff0000"/>
<rect x="516" y="177" width="2" height="1" fill="#ca4008"/>
<rect x="518" y="177" width="1" height="1" fill="#000000"/>
<rect x="407" y="178" width="5" height="1" fill="#ff0000"/>
<rect x="515" y="178" width="2" height="1" fill="#ca4008"/>
<rect x="517" y="178" width="1" height="1" fill="#000000"/>
<rect x="404" y="179" width="6" height="1" fill="#ff0000"/>
<rect x="514" y="179" width="2" height="1" fill="#ca4008"/>
<rect x="516" y="179" width="1" height="1" fill="#000000"/>
<rect x="402" y="180" width="6" height="1" fill="#ff0000"/>
<rect x="513" y="180" width="1" height="1" fill="#ca4008"/>
<rect x="514" y="180" width="2" height="1" fill="#000000"/>
<rect x="400" y="181" width="6" height="1" fill="#ff0000"/>
<rect x="512" y="181" width="1" height="1" fill="#ca4008"/>
<rect x="513" y="181" width="2" height="1" fill="#000000"/>
<rect x="398" y="182" width="6" height="1" fill="#ff0000"/>
<rect x="511" y="182" width="3" height="1" fill="#000000"/>
<rect x="396" y="183" width="5" height="1" fill="#ff0000"/>
<rect x="510" y="183" width="3" height="1" fill="#000000"/>
<rect x="394" y="184" width="5" height="1" fill="#ff0000"/>
<rect x="509" y="184" width="3" height="1" fill="#000000"/>
<rect x="392" y="185" width="5" height="1" fill="#ff0000"/>
<rect x="508" y="185" width="3" height="1" fill="#000000"/>
<rect x="390" y="186" width="5" height="1" fill="#ff0000"/>
<rect x="507" y="186" width="3" height="1" fill="#000000"/>
<rect x="388" y="187" width="5" height="1" fill="#ff0000"/>
<rect x="506" y="187" width="3" height="1" fill="#000000"/>
<rect x="386" y="188" width="5" height="1" fill="#ff0000"/>
<rect x="505" y="188" width="3" height="1" fill="#000000"/>
<rect x="383" y="189" width="1" height="1" fill="#ff0000"/>
<rect x="384" y="189" width="2" height="1" fill="#3fc040"/>
<rect x="386" y="189" width="3" height="1" fill="#ff0000"/>
<rect x="504" y="189" width="3" height="1" fill="#000000"/>
<rect x="381" y="190" width="3" height="1" fill="#ff0000"/>
<rect x="384" y="190" width="2" height="1" fill="#3fc040"/>
<rect x="386" y="190" width="1" height="1" fill="#ff0000"/>
<rect x="503" y="190" width="3" height="1" fill="#000000"/>
<rect x="379" y="191" width="5" height="1" fill="#ff0000"/>
<rect x="384" y="191" width="1" height="1" fill="#3fc040"/>
<rect x="502" y="191" width="3" height="1" fill="#000000"/>
<rect x="377" y="192" width="1" height="1" fill="#3fc040"/>
<rect x="378" y="192" width="4" height="1" fill="#ff0000"/>
<rect x="501" y="192" width="3" height="1" fill="#000000"/>
<rect x="375" y="193" width="4" height="1" fill="#354008"/>
<rect x="379" y="193" width="1" height="1" fill="#ff0000"/>
<rect x="500" y="193" width="3" height="1" fill="#000000"/>
<rect x="373" y="194" width="5" height="1" fill="#354008"/>
<rect x="499" y="194" width="2" height="1" fill="#000000"/>
<rect x="501" y="194" width="1" height="1" fill="#ca4008"/>
<rect x="371" y="195" width="5" height="1" fill="#354008"/>
<rect x="498" y="195" width="1" height="1" fill="#000000"/>
<rect x="499" y="195" width="2" height="1" fill="#ca4008"/>
<rect x="369" y="196" width="5" height="1" fill="#354008"/>
<rect x="497" y="196" width="3" height="1" fill="#ca4008"/>
<rect x="367" y="197" width="1" height="1" fill="#ff0000"/>
<rect x="368" y="197" width="4" height="1" fill="#3fc040"/>
<rect x="496" y="197" width="3" height="1" fill="#ca4008"/>
<rect x="365" y="198" width="3" height="1" fill="#ff0000"/>
<rect x="368" y="198" width="2" height="1" fill="#3fc040"/>
<rect x="495" y="198" width="2" height="1" fill="#ca4008"/>
<rect x="497" y="198" width="1" height="1" fill="#000000"/>
<rect x="362" y="199" width="6" height="1" fill="#ff0000"/>
<rect x="494" y="199" width="3" height="1" fill="#000000"/>
<rect x="360" y="200" width="2" height="1" fill="#3fc040"/>
<rect x="362" y="200" width="4" height="1" fill="#ff0000"/>
<rect x="493" y="200" width="3" height="1" fill="#000000"/>
<rect x="358" y="201" width="2" height="1" fill="#ff0000"/>
<rect x="360" y="201" width="2" height="1" fill="#3fc040"/>
<rect x="362" y="201" width="2" height="1" fill="#ff0000"/>
<rect x="492" y="201" width="3" height="1" fill="#000000"/>
<rect x="356" y="202" width="4" height="1" fill="#ff0000"/>
<rect x="360" y="202" width="1" height="1" fill="#3fc040"/>
<rect x="491" y="202" width="3" height="1" fill="#000000"/>
<rect x="354" y="203" width="5" height="1" fill="#ff0000"/>
<rect x="490" y="203" width="3" height="1" fill="#000000"/>
<rect x="352" y="204" width="3" height="1" fill="#ff0000"/>
<rect x="355" y="204" width="2" height="1" fill="#354008"/>
<rect x="489" y="204" width="3" height="1" fill="#000000"/>
<rect x="350" y="205" width="5" height="1" fill="#354008"/>
<rect x="488" y="205" width="3" height="1" fill="#000000"/>
<rect x="348" y="206" width="5" height="1" fill="#354008"/>
<rect x="487" y="206" width="3" height="1" fill="#000000"/>
<rect x="346" y="207" width="5" height="1" fill="#354008"/>
<rect x="486" y="207" width="3" height="1" fill="#000000"/>
<rect x="343" y="208" width="4" height="1" fill="#354008"/>
<rect x="347" y="208" width="2" height="1" fill="#ff0000"/>
<rect x="485" y="208" width="3" height="1" fill="#000000"/>
<rect x="341" y="209" width="3" height="1" fill="#354008"/>
<rect x="344" y="209" width="3" height="1" fill="#ff0000"/>
<rect x="484" y="209" width="3" height="1" fill="#000000"/>
<rect x="339" y="210" width="3" height="1" fill="#354008"/>
<rect x="342" y="210" width="3" height="1" fill="#ff0000"/>
<rect x="483" y="210" width="3" height="1" fill="#000000"/>
<rect x="337" y="211" width="2" height="1" fill="#354008"/>
<rect x="339" y="211" width="4" height="1" fill="#ff0000"/>
<rect x="482" y="211" width="3" height="1" fill="#000000"/>
<rect x="335" y="212" width="2" height="1" fill="#354008"/>
<rect x="337" y="212" width="3" height="1" fill="#ff0000"/>
<rect x="481" y="212" width="3" height="1" fill="#000000"/>
<rect x="333" y="213" width="1" height="1" fill="#354008"/>
<rect x="334" y="213" width="4" height="1" fill="#ff0000"/>
<rect x="480" y="213" width="3" height="1" fill="#000000"/>
<rect x="331" y="214" width="5" height="1" fill="#ff0000"/>
<rect x="479" y="214" width="3" height="1" fill="#000000"/>
<rect x="329" y="215" width="5" height="1" fill="#ff0000"/>
<rect x="478" y="215" width="3" height="1" fill="#000000"/>
<rect x="327" y="216" width="5" height="1" fill="#ff0000"/>
<rect x="477" y="216" width="3" height="1" fill="#000000"/>
<rect x="325" y="217" width="5" height="1" fill="#ff0000"/>
<rect x="476" y="217" width="3" height="1" fill="#000000"/>
<rect x="322" y="218" width="6" height="1" fill="#ff0000"/>
<rect x="475" y="218" width="3" height="1" fill="#000000"/>
<rect x="320" y="219" width="6" height="1" fill="#ff0000"/>
<rect x="474" y="219" width="3" height="1" fill="#000000"/>
<rect x="318" y="220" width="6" height="1" fill="#ff0000"/>
<rect x="473" y="220" width="3" height="1" fill="#000000"/>
<rect x="316" y="221" width="5" height="1" fill="#ff0000"/>
<rect x="472" y="221" width="3" height="1" fill="#000000"/>
<rect x="314" y="222" width="5" height="1" fill="#ff0000"/>
<rect x="471" y="222" width="3" height="1" fill="#000000"/>
<rect x="312" y="223" width="5" height="1" fill="#ff0000"/>
<rect x="470" y="223" width="3" height="1" fill="#000000"/>
<rect x="310" y="224" width="5" height="1" fill="#ff0000"/>
<rect x="469" y="224" width="3" height="1" fill="#000000"/>
<rect x="308" y="225" width="5" height="1" fill="#ff0000"/>
<rect x="468" y="225" width="3" height="1" fill="#000000"/>
<rect x="306" y="226" width="5" height="1" fill="#ff0000"/>
<rect x="467" y="226" width="3" height="1" fill="#000000"/>
<rect x="303" y="227" width="6" height="1" fill="#ff0000"/>
<rect x="466" y="227" width="3" height="1" fill="#000000"/>
<rect x="301" y="228" width="6" height="1" fill="#ff0000"/>
<rect x="465" y="228" width="1" height="1" fill="#c0c040"/>
<rect x="466" y="228" width="2" height="1" fill="#000000"/>
<rect x="299" y="229" width="6" height="1" fill="#ff0000"/>
<rect x="464" y="229" width="2" height="1" fill="#c0c040"/>
<rect x="466" y="229" width="1" height="1" fill="#000000"/>
<rect x="297" y="230" width="6" height="1" fill="#ff0000"/>
<rect x="463" y="230" width="3" height="1" fill="#000000"/>
<rect x="295" y="231" width="5" height="1" fill="#ff0000"/>
<rect x="462" y="231" width="3" height="1" fill="#000000"/>
<rect x="293" y="232" width="5" height="1" fill="#ff0000"/>
<rect x="461" y="232" width="3" height="1" fill="#000000"/>
<rect x="291" y="233" width="5" height="1" fill="#ff0000"/>
<rect x="460" y="233" width="3" height="1" fill="#000000"/>
<rect x="289" y="234" width="5" height="1" fill="#ff0000"/>
<rect x="459" y="234" width="3" height="1" fill="#000000"/>
<rect x="287" y="235" width="5" height="1" fill="#ff0000"/>
<rect x="458" y="235" width="3" height="1" fill="#000000"/>
<rect x="285" y="236" width="5" height="1" fill="#ff0000"/>
<rect x="457" y="236" width="1" height="1" fill="#c0c040"/>
<rect x="458" y="236" width="2" height="1" fill="#000000"/>
<rect x="282" y="237" width="6" height="1" fill="#ff0000"/>
<rect x="457" y="237" width="1" height="1" fill="#c0c040"/>
<rect x="458" y="237" width="1" height="1" fill="#000000"/>
<rect x="280" y="238" width="6" height="1" fill="#ff0000"/>
<rect x="278" y="239" width="6" height="1" fill="#ff0000"/>
<rect x="276" y="240" width="5" height="1" fill="#ff0000"/>
<rect x="274" y="241" width="5" height="1" fill="#ff0000"/>
<rect x="272" y="242" width="5" height="1" fill="#ff0000"/>
<rect x="270" y="243" width="5" height="1" fill="#ff0000"/>
<rect x="268" y="244" width="5" height="1" fill="#ff0000"/>
<rect x="266" y="245" width="5" height="1" fill="#ff0000"/>
<rect x="264" y="246" width="5" height="1" fill="#ff0000"/>
<rect x="261" y="247" width="6" height="1" fill="#ff0000"/>
<rect x="259" y="248" width="6" height="1" fill="#ff0000"/>
<rect x="257" y="249" width="6" height="1" fill="#ff0000"/>
<rect x="255" y="250" width="5" height="1" fill="#ff0000"/>
<rect x="253" y="251" width="5" height="1" fill="#ff0000"/>
<rect x="251" y="252" width="5" height="1" fill="#ff0000"/>
<rect x="249" y="253" width="5" height="1" fill="#ff0000"/>
<rect x="247" y="254" width="5" height="1" fill="#ff0000"/>
<rect x="245" y="255" width="5" height="1" fill="#ff0000"/>
<rect x="242" y="256" width="6" height="1" fill="#ff0000"/>
<rect x="240" y="257" width="6" height="1" fill="#ff0000"/>
<rect x="238" y="258" width="6" height="1" fill="#ff0000"/>
<rect x="236" y="259" width="6" height="1" fill="#ff0000"/>
<rect x="234" y="260" width="5" height="1" fill="#ff0000"/>
<rect x="232" y="261" width="5" height="1" fill="#ff0000"/>
<rect x="230" y="262" width="5" height="1" fill="#ff0000"/>
<rect x="228" y="263" width="5" height="1" fill="#ff0000"/>
<rect x="226" y="264" width="5" height="1" fill="#ff0000"/>
<rect x="224" y="265" width="5" height="1" fill="#ff0000"/>
<rect x="221" y="266" width="6" height="1" fill="#ff0000"/>
<rect x="219" y="267" width="6" height="1" fill="#ff0000"/>
<rect x="217" y="268" width="6" height="1" fill="#ff0000"/>
<rect x="215" y="269" width="5" height="1" fill="#ff0000"/>
<rect x="213" y="270" width="5" height="1" fill="#ff0000"/>
<rect x="211" y="271" width="5" height="1" fill="#ff0000"/>
<rect x="209" y="272" width="5" height="1" fill="#ff0000"/>
<rect x="207" y="273" width="5" height="1" fill="#ff0000"/>
<rect x="205" y="274" width="5" height="1" fill="#ff0000"/>
<rect x="203" y="275" width="5" height="1" fill="#ff0000"/>
<rect x="200" y="276" width="6" height="1" fill="#ff0000"/>
<rect x="198" y="277" width="6" height="1" fill="#ff0000"/>
<rect x="196" y="278" width="6" height="1" fill="#ff0000"/>
<rect x="194" y="279" width="5" height="1" fill="#ff0000"/>
<rect x="192" y="280" width="5" height="1" fill="#ff0000"/>
<rect x="190" y="281" width="5" height="1" fill="#ff0000"/>
<rect x="188" y="282" width="5" height="1" fill="#ff0000"/>
<rect x="186" y="283" width="5" height="1" fill="#ff0000"/>
<rect x="184" y="284" width="5" height="1" fill="#ff0000"/>
<rect x="181" y="285" width="6" height="1" fill="#ff0000"/>
<rect x="179" y="286" width="6" height="1" fill="#ff0000"/>
<rect x="177" y="287" width="6" height="1" fill="#ff0000"/>
<rect x="175" y="288" width="6" height="1" fill="#ff0000"/>
<rect x="173" y="289" width="5" height="1" fill="#ff0000"/>
<rect x="171" y="290" width="5" height="1" fill="#ff0000"/>
<rect x="169" y="291" width="5" height="1" fill="#ff0000"/>
<rect x="167" y="292" width="5" height="1" fill="#ff0000"/>
<rect x="165" y="293" width="5" height="1" fill="#ff0000"/>
<rect x="163" y="294" width="5" height="1" fill="#ff0000"/>
<rect x="160" y="295" width="6" height="1" fill="#ff0000"/>
<rect x="158" y="296" width="6" height="1" fill="#ff0000"/>
<rect x="156" y="297" width="6" height="1" fill="#ff0000"/>
<rect x="154" y="298" width="5" height="1" fill="#ff0000"/>
<rect x="152" y="299" width="5" height="1" fill="#ff0000"/>
<rect x="150" y="300" width="5" height="1" fill="#ff0000"/>
<rect x="148" y="301" width="5" height="1" fill="#ff0000"/>
<rect x="146" y="302" width="5" height="1" fill="#ff0000"/>
<rect x="144" y="303" width="5" height="1" fill="#ff0000"/>
<rect x="141" y="304" width="6" height="1" fill="#ff0000"/>
<rect x="139" y="305" width="1" height="1" fill="#354008"/>
<rect x="140" y="305" width="5" height="1" fill="#ff0000"/>
<rect x="137" y="306" width="2" height="1" fill="#354008"/>
<rect x="139" y="306" width="4" height="1" fill="#ff0000"/>
<rect x="135" y="307" width="3" height="1" fill="#354008"/>
<rect x="138" y="307" width="3" height="1" fill="#ff0000"/>
<rect x="133" y="308" width="1" height="1" fill="#ff0000"/>
<rect x="134" y="308" width="3" height="1" fill="#354008"/>
<rect x="137" y="308" width="1" height="1" fill="#ff0000"/>
<rect x="131" y="309" width="2" height="1" fill="#ff0000"/>
<rect x="133" y="309" width="3" height="1" fill="#354008"/>
<rect x="129" y="310" width="3" height="1" fill="#ff0000"/>
<rect x="132" y="310" width="2" height="1" fill="#354008"/>
<rect x="127" y="311" width="4" height="1" fill="#ff0000"/>
<rect x="131" y="311" width="1" height="1" fill="#354008"/>
<rect x="125" y="312" width="5" height="1" fill="#ff0000"/>
<rect x="123" y="313" width="5" height="1" fill="#ff0000"/>
<rect x="120" y="314" width="6" height="1" fill="#ff0000"/>
<rect x="118" y="315" width="6" height="1" fill="#ff0000"/>
<rect x="116" y="316" width="6" height="1" fill="#ff0000"/>
<rect x="114" y="317" width="6" height="1" fill="#ff0000"/>
<rect x="112" y="318" width="5" height="1" fill="#ff0000"/>
<rect x="110" y="319" width="5" height="1" fill="#ff0000"/>
<rect x="108" y="320" width="5" height="1" fill="#ff0000"/>
<rect x="106" y="321" width="5" height="1" fill="#ff0000"/>
<rect x="104" y="322" width="5" height="1" fill="#ff0000"/>
<rect x="102" y="323" width="5" height="1" fill="#ff0000"/>
<rect x="99" y="324" width="6" height="1" fill="#ff0000"/>
<rect x="97" y="325" width="6" height="1" fill="#ff0000"/>
<rect x="95" y="326" width="6" height="1" fill="#ff0000"/>
<rect x="93" y="327" width="5" height="1" fill="#ff0000"/>
<rect x="91" y="328" width="5" height="1" fill="#ff0000"/>
<rect x="89" y="329" width="5" height="1" fill="#ff0000"/>
<rect x="87" y="330" width="5" height="1" fill="#ff0000"/>
<rect x="85" y="331" width="5" height="1" fill="#ff0000"/>
<rect x="83" y="332" width="5" height="1" fill="#ff0000"/>
<rect x="80" y="333" width="6" height="1" fill="#ff0000"/>
<rect x="78" y="334" width="6" height="1" fill="#ff0000"/>
<rect x="76" y="335" width="6" height="1" fill="#ff0000"/>
<rect x="74" y="336" width="2" height="1" fill="#354008"/>
<rect x="76" y="336" width="4" height="1" fill="#ff0000"/>
<rect x="72" y="337" width="1" height="1" fill="#ff0000"/>
<rect x="73" y="337" width="2" height="1" fill="#354008"/>
<rect x="75" y="337" width="2" height="1" fill="#ff0000"/>
<rect x="70" y="338" width="2" height="1" fill="#ff0000"/>
<rect x="72" y="338" width="2" height="1" fill="#354008"/>
<rect x="74" y="338" width="1" height="1" fill="#ff0000"/>
<rect x="68" y="339" width="4" height="1" fill="#ff0000"/>
<rect x="72" y="339" width="1" height="1" fill="#354008"/>
<rect x="66" y="340" width="5" height="1" fill="#ff0000"/>
<rect x="64" y="341" width="2" height="1" fill="#3fc040"/>
<rect x="66" y="341" width="3" height="1" fill="#ff0000"/>
<rect x="62" y="342" width="2" height="1" fill="#ff0000"/>
<rect x="64" y="342" width="2" height="1" fill="#3fc040"/>
<rect x="66" y="342" width="1" height="1" fill="#ff0000"/>
<rect x="59" y="343" width="1" height="1" fill="#354008"/>
<rect x="60" y="343" width="4" height="1" fill="#ff0000"/>
<rect x="64" y="343" width="1" height="1" fill="#3fc040"/>
<rect x="57" y="344" width="3" height="1" fill="#354008"/>
<rect x="60" y="344" width="3" height="1" fill="#ff0000"/>
<rect x="55" y="345" width="1" height="1" fill="#ff0000"/>
<rect x="56" y="345" width="1" height="1" fill="#3fc040"/>
<rect x="57" y="345" width="2" height="1" fill="#354008"/>
<rect x="59" y="345" width="2" height="1" fill="#ff0000"/>
<rect x="53" y="346" width="3" height="1" fill="#ff0000"/>
<rect x="56" y="346" width="1" height="1" fill="#3fc040"/>
<rect x="57" y="346" width="1" height="1" fill="#354008"/>
<rect x="51" y="347" width="5" height="1" fill="#ff0000"/>
<rect x="49" y="348" width="1" height="1" fill="#3fc040"/>
<rect x="50" y="348" width="4" height="1" fill="#ff0000"/>
<rect x="47" y="349" width="1" height="1" fill="#ff0000"/>
<rect x="48" y="349" width="2" height="1" fill="#3fc040"/>
<rect x="50" y="349" width="2" height="1" fill="#ff0000"/>
<rect x="45" y="350" width="3" height="1" fill="#ff0000"/>
<rect x="48" y="350" width="2" height="1" fill="#3fc040"/>
<rect x="43" y="351" width="5" height="1" fill="#ff0000"/>
<rect x="41" y="352" width="1" height="1" fill="#3fc040"/>
<rect x="42" y="352" width="4" height="1" fill="#ff0000"/>
<rect x="38" y="353" width="2" height="1" fill="#ff0000"/>
<rect x="40" y="353" width="2" height="1" fill="#3fc040"/>
<rect x="42" y="353" width="2" height="1" fill="#ff0000"/>
<rect x="36" y="354" width="4" height="1" fill="#ff0000"/>
<rect x="40" y="354" width="2" height="1" fill="#3fc040"/>
<rect x="34" y="355" width="6" height="1" fill="#ff0000"/>
<rect x="32" y="356" width="2" height="1" fill="#3fc040"/>
<rect x="34" y="356" width="3" height="1" fill="#ff0000"/>
<rect x="30" y="357" width="2" height="1" fill="#ff0000"/>
<rect x="32" y="357" width="2" height="1" fill="#3fc040"/>
<rect x="34" y="357" width="1" height="1" fill="#ff0000"/>
<rect x="28" y="358" width="4" height="1" fill="#ff0000"/>
<rect x="32" y="358" width="1" height="1" fill="#3fc040"/>
<rect x="26" y="359" width="5" height="1" fill="#ff0000"/>
<rect x="24" y="360" width="2" height="1" fill="#3fc040"/>
<rect x="26" y="360" width="3" height="1" fill="#ff0000"/>
<rect x="22" y="361" width="2" height="1" fill="#ff0000"/>
<rect x="24" y="361" width="2" height="1" fill="#3fc040"/>
<rect x="26" y="361" width="1" height="1" fill="#ff0000"/>
<rect x="19" y="362" width="5" height="1" fill="#ff0000"/>
<rect x="24" y="362" width="1" height="1" fill="#3fc040"/>
<rect x="17" y="363" width="1" height="1" fill="#3fc040"/>
<rect x="18" y="363" width="5" height="1" fill="#ff0000"/>
<rect x="15" y="364" width="1" height="1" fill="#ff0000"/>
<rect x="16" y="364" width="2" height="1" fill="#3fc040"/>
<rect x="18" y="364" width="3" height="1" fill="#ff0000"/>
<rect x="13" y="365" width="3" height="1" fill="#ff0000"/>
<rect x="16" y="365" width="2" height="1" fill="#3fc040"/>
<rect x="18" y="365" width="1" height="1" fill="#ff0000"/>
<rect x="11" y="366" width="5" height="1" fill="#ff0000"/>
<rect x="9" y="367" width="1" height="1" fill="#3fc040"/>
<rect x="10" y="367" width="4" height="1" fill="#ff0000"/>
<rect x="7" y="368" width="1" height="1" fill="#ff0000"/>
<rect x="8" y="368" width="2" height="1" fill="#3fc040"/>
<rect x="10" y="368" width="2" height="1" fill="#ff0000"/>
<rect x="7" y="369" width="1" height="1" fill="#ff0000"/>
<rect x="8" y="369" width="2" height="1" fill="#3fc040"/>
<rect x="7" y="370" width="1" height="1" fill="#ff0000"/>
</svg>
</body></html>
